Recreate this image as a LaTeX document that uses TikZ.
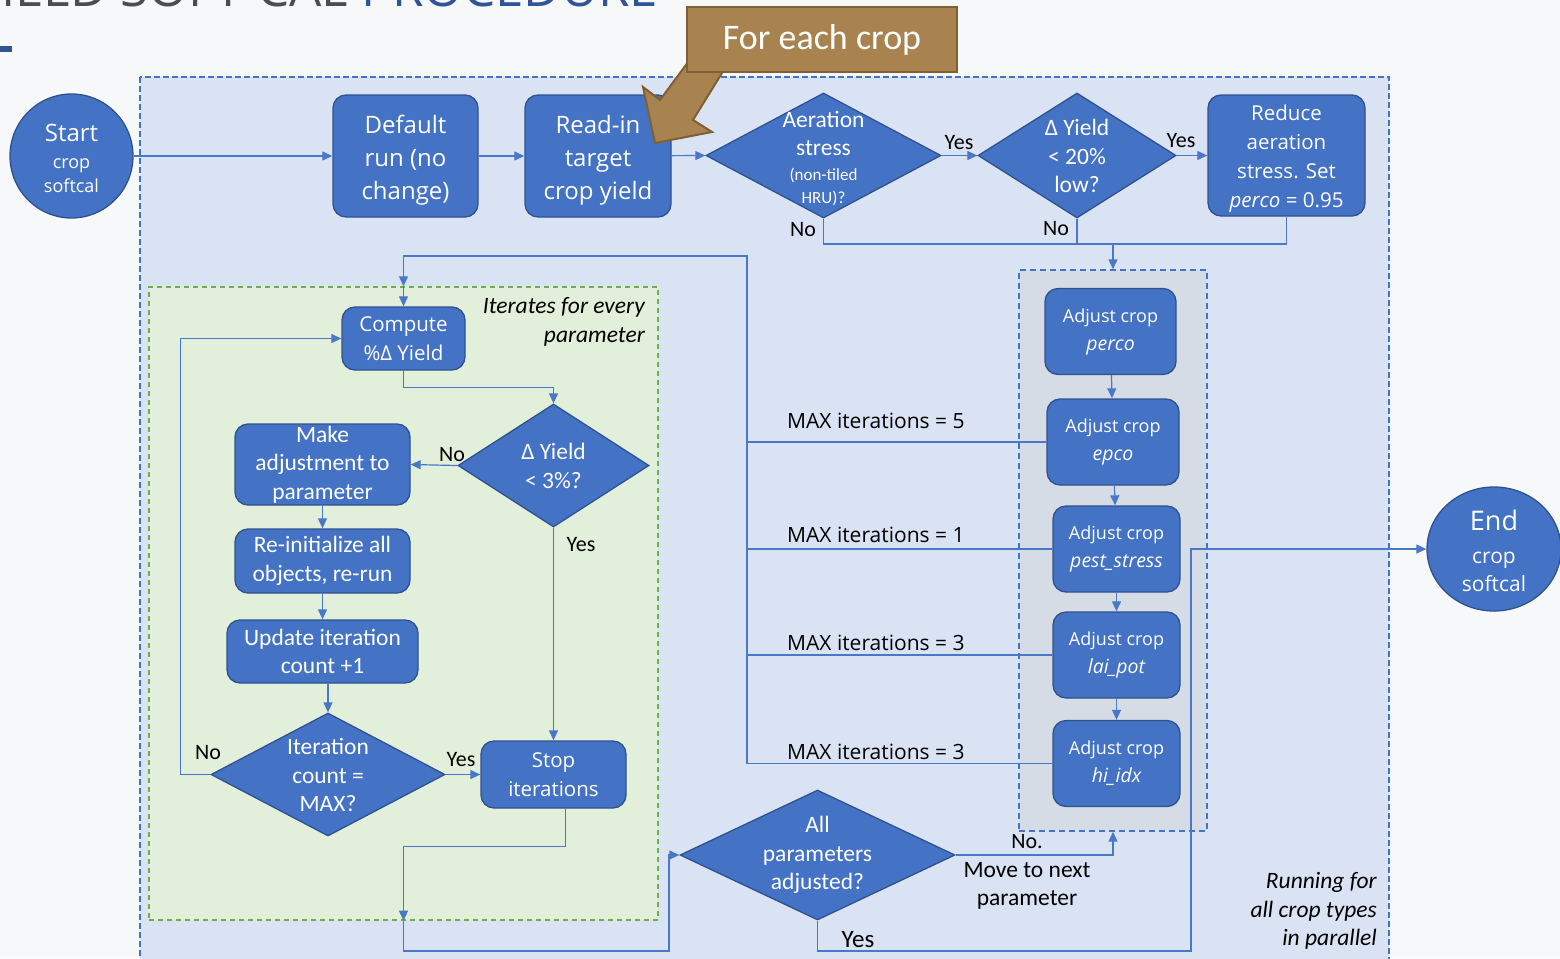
\documentclass[tikz,border=0pt]{standalone}
\usepackage{fontspec}
\setmainfont{Carlito}
\newfontfamily\segoe{Open Sans}
\usetikzlibrary{shapes.geometric,arrows.meta}
\definecolor{pageBack}{HTML}{F7F8FA}
\definecolor{boxBlue}{HTML}{4472C4}
\definecolor{boxEdge}{HTML}{2F528F}
\definecolor{lineBlue}{HTML}{4A78C8}
\definecolor{panelBlue}{HTML}{DAE3F3}
\definecolor{panelGreen}{HTML}{E2EFDA}
\definecolor{greenEdge}{HTML}{70AD47}
\definecolor{panelGray}{HTML}{D5DCE5}
\definecolor{callout}{HTML}{A9834F}
\definecolor{calloutEdge}{HTML}{7F6032}
\definecolor{titleGray}{HTML}{4A4E52}
\definecolor{titleBlue}{HTML}{2F5597}
\newcommand\calibtext{\fontsize{23.5}{28.5}\selectfont}
\newcommand\segoetext{\segoe\fontsize{20.5}{28.5}\selectfont}
\newcommand\topstrut[1]{\rule{0pt}{#1}}
\begin{document}
\begin{tikzpicture}[
  x=1pt, y=-1pt,
  stepbox/.style={
    draw=boxEdge, fill=boxBlue, line width=1.3pt,
    rounded corners=13pt, text=white, align=center, inner sep=0pt
  },
  decision/.style={
    diamond, draw=boxEdge, fill=boxBlue, line width=1.3pt, inner sep=0pt
  },
  terminal/.style={
    ellipse, draw=boxEdge, fill=boxBlue, line width=1.3pt, inner sep=0pt
  },
  intext/.style={text=white, align=center, inner sep=0pt},
  adjbox/.style={
    stepbox, minimum height=86pt, font=\segoe\fontsize{18}{28}\selectfont
  },
  flow/.style={draw=lineBlue, line width=1.2pt},
  arrowed/.style={flow, -{Triangle[length=10pt,width=9pt]}},
  answer/.style={font=\fontsize{22}{26}\selectfont, inner sep=0pt},
  maxnote/.style={anchor=west, inner sep=0pt, font=\segoe\fontsize{21}{25}\selectfont},
  note/.style={anchor=east, align=right, inner sep=0pt, font=\calibtext\itshape}
]
\useasboundingbox (0,0) rectangle (1560,958);
\fill[pageBack] (0,0) rectangle (1560,958);
\clip (0,0) rectangle (1560,958);
\node[anchor=base west, inner sep=0pt, font=\segoe\fontsize{51}{60}\selectfont] (title) at (1,7)
  {\textcolor{titleGray}{IELD SOFT-CAL} \textcolor{titleBlue}{PROCEDURE}};
\fill[titleBlue] (0,46) rectangle (12,52);
\draw[fill=panelBlue, draw=boxBlue, line width=1.4pt, dash pattern=on 6pt off 3pt]
  (140,77) rectangle (1389,980);
\node[draw=greenEdge, fill=panelGreen, line width=1.4pt, dash pattern=on 5pt off 4pt,
  minimum width=509pt, minimum height=633pt, inner sep=0pt] (gp) at (403.5,603.5) {};
\node[draw=boxBlue, fill=panelGray, line width=1.4pt, dash pattern=on 6pt off 4pt,
  minimum width=188pt, minimum height=561pt, inner sep=0pt] (grp) at (1113,550.5) {};

% top row
\node[terminal, minimum width=123pt, minimum height=124pt] (start) at (71.5,156) {};
\node[intext, font=\segoe\fontsize{18}{24}\selectfont] (startT) at (71.5,158)
  {{\fontsize{24}{28}\selectfont Start}\\[3pt]crop\\softcal};
\node[stepbox, minimum width=145pt, minimum height=122pt, font=\segoe\fontsize{24}{33}\selectfont]
  (def) at (405.5,156) {\topstrut{26pt}Default\\run (no\\change)};
\node[stepbox, minimum width=146pt, minimum height=122pt, font=\segoe\fontsize{24}{33}\selectfont]
  (read) at (598,156) {\topstrut{26pt}Read-in\\target\\crop yield};
\node[decision, minimum width=235pt, minimum height=125pt] (aer) at (823.5,155.5) {};
\node[intext, font=\calibtext] (aerT) at (823.5,158.5)
  {Aeration\\stress\\[-4pt]{\fontsize{17}{23}\selectfont(non-tiled}\\[-5pt]{\fontsize{17}{23}\selectfont HRU)?}};
\node[decision, minimum width=198pt, minimum height=125pt] (yld) at (1077,155.5) {};
\node[intext, font=\calibtext] (yldT) at (1077,156) {Δ Yield\\< 20\%\\low?};
\node[stepbox, minimum width=157pt, minimum height=121pt, font=\segoe\fontsize{20.5}{29}\selectfont]
  (red) at (1286.5,155.5) {\topstrut{21.5pt}Reduce\\aeration\\stress. Set\\\textit{perco} = 0.95};

% inner loop
\node[stepbox, minimum width=123pt, minimum height=63pt, font=\segoetext]
  (cmp) at (403.5,338.5) {Compute\\\%Δ Yield};
\node[decision, minimum width=191pt, minimum height=123pt] (q3) at (553.5,465.5) {};
\node[intext, font=\calibtext] (q3T) at (553.5,466) {Δ Yield\\< 3\%?};
\node[stepbox, minimum width=175pt, minimum height=81pt, font=\calibtext]
  (mk) at (322.5,464.5) {Make\\adjustment to\\parameter};
\node[stepbox, minimum width=175pt, minimum height=64pt, font=\calibtext]
  (ri) at (322.5,561) {Re-initialize all\\objects, re-run};
\node[stepbox, minimum width=191pt, minimum height=63pt, font=\calibtext]
  (up) at (322.5,651.5) {Update iteration\\count +1};
\node[decision, minimum width=234pt, minimum height=123pt] (qi) at (328,774.5) {};
\node[intext, font=\calibtext] (qiT) at (328,775) {Iteration\\count =\\MAX?};
\node[stepbox, minimum width=145pt, minimum height=67pt, font=\segoetext]
  (stop) at (553.5,774.5) {Stop\\iterations};
\node[note] (iter) at (645,322) {Iterates for every\\parameter};

% parameters
\foreach \n/\t/\x/\y/\w in {pc/perco/1110.5/331.5/131, ep/epco/1113/442/132,
  ps/pest\_stress/1116.5/549/127, lp/lai\_pot/1116.5/655/127, hi/hi\_idx/1116.5/763.5/127} {
  \node[adjbox, minimum width=\w pt] (\n) at (\x,\y)
    {Adjust crop\\{\fontsize{19.5}{28}\selectfont\itshape \t}};
}
\foreach \a/\b in {pc/ep, ep/ps, ps/lp, lp/hi} {
  \draw[arrowed] (\a) -- (\b);
}
\node[decision, minimum width=275pt, minimum height=130pt] (all) at (817.5,855) {};
\node[intext, font=\calibtext] (allT) at (817.5,855) {All\\parameters\\adjusted?};
\node[terminal, minimum width=134pt, minimum height=124pt] (end) at (1494,549) {};
\node[intext, font=\segoe\fontsize{21}{28}\selectfont] (endT) at (1494,551)
  {{\fontsize{27}{31}\selectfont End}\\[5pt]crop\\softcal};
\node[note] (para) at (1377,911) {Running for\\all crop types\\in parallel};

% connectors
\coordinate (junc) at (1113,244);
\coordinate (spine) at (747,256);
\coordinate (bot) at (669,951);
\coordinate (yesc) at (1191,951);
\draw[arrowed] (start) -- (def);
\draw[arrowed] (def) -- (read);
\draw[arrowed] (read) -- (aer.west);
\draw[arrowed] (aer.east) -- (yld.west);
\draw[arrowed] (yld.east) -- (red);
\draw[flow] (aer.south) |- (red.south |- junc) -- (red.south);
\draw[flow] (yld.south) -- (yld.south |- junc);
\draw[arrowed] (junc) -- (grp.north);
\draw[arrowed] (hi.west) -| (spine) -| (gp.north);
\draw[arrowed] (gp.north) -- (cmp.north);
\foreach \n/\v/\y in {ep/5/421, ps/1/535, lp/3/643, hi/3/752} {
  \draw[flow] (\n.west) -- (\n.west -| spine);
  \node[maxnote] (max\n) at (787,\y) {MAX iterations = \v};
}
\draw[arrowed] (cmp.south) -- ++(0,17) -| (q3.north);
\draw[arrowed] (q3.west) -- (mk.east);
\draw[arrowed] (q3.south) -- (stop.north);
\draw[arrowed] (mk) -- (ri);
\draw[arrowed] (ri) -- (up);
\draw[arrowed] (qi.north |- up.south) -- (qi.north);
\draw[arrowed] (qi.west) -- ++(-30,0) |- (cmp.west);
\draw[arrowed] (qi.east) -- (stop.west);
\draw[arrowed] ([xshift=12pt]stop.south) -- ++(0,38) -| (gp.south);
\draw[arrowed] (gp.south) |- (bot) |- (all.west);
\draw[arrowed] (all.east) -| (grp.south);
\draw[arrowed] (all.south) |- (yesc) |- (end.west);

% answers
\node[answer] (y1) at (959,143) {Yes};
\node[answer] (y2) at (1181,141) {Yes};
\node[answer] (n1) at (803,230) {No};
\node[answer] (n2) at (1056,229) {No};
\node[answer] (n3) at (452,455) {No};
\node[answer] (y3) at (581,545) {Yes};
\node[answer] (n4) at (208,753) {No};
\node[answer] (y4) at (461,760) {Yes};
\node[answer] (n5) at (1027,842) {No.};
\node[answer, align=center, font=\calibtext] (n5b) at (1027,886) {Move to next\\parameter};
\node[answer, font=\fontsize{25}{28}\selectfont] (y5) at (858,940) {Yes};

% callout
\draw[fill=callout, draw=calloutEdge, line width=2pt, line join=miter]
  (697,50) -- (660,100) -- (643,87) -- (655,143) -- (712,132) -- (693,120) -- (730,60) -- cycle;
\node[draw=calloutEdge, fill=callout, line width=2pt, minimum width=270pt, minimum height=65pt,
  inner sep=0pt, text=white, font=\fontsize{36}{40}\selectfont] (crop) at (822,39.5) {For each crop};
\end{tikzpicture}
\end{document}
